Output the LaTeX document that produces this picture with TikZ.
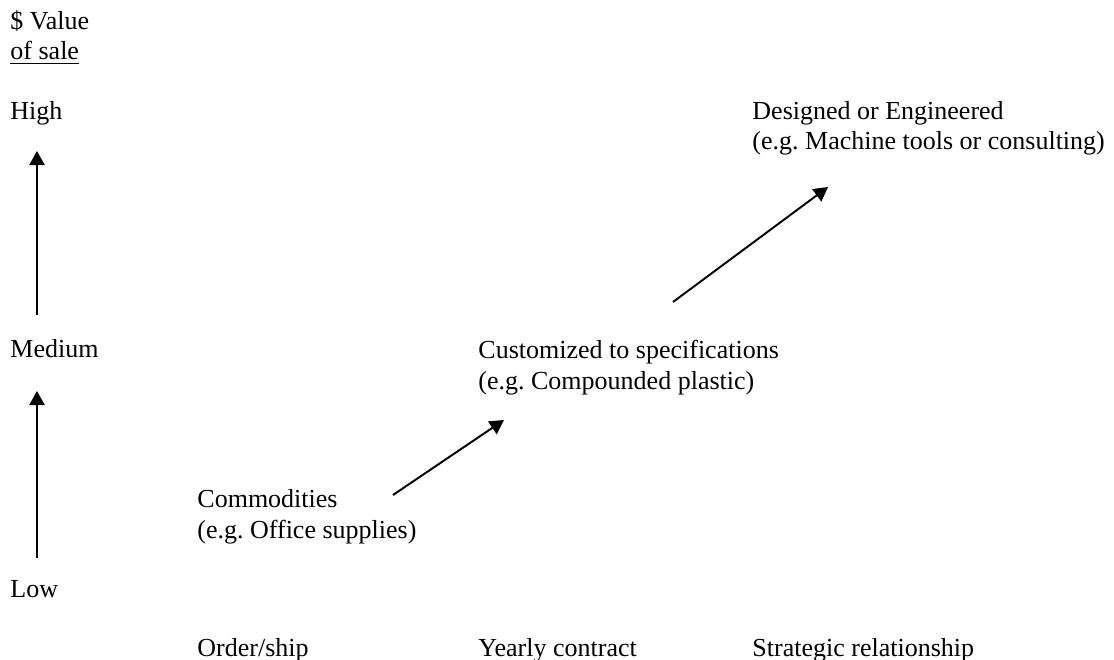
\documentclass[tikz,border=0pt]{standalone}
\usepackage{fontspec}
\setmainfont{Liberation Serif}
\usetikzlibrary{arrows.meta}
\frenchspacing
\tikzset{
	txt/.style={anchor=base west, inner sep=0pt, align=left},
	arrow/.style={draw, line width=0.9pt, -{Triangle[length=6.5pt, width=7pt]}}
}

\begin{document}
\begin{tikzpicture}[x=0.4615pt, y=-0.4615pt, font=\fontsize{12pt}{14pt}\selectfont]

\useasboundingbox (0,0) rectangle (1114,660);

% vertical axis (base = last line)
\node[txt] (value) at (10,60) {\$ Value\\\underline{of sale}};
\node[txt] (high) at (10,120) {High};
\node[txt] (medium) at (10,357) {Medium};
\node[txt] (low) at (10,597) {Low};

% kinds of purchase
\node[txt] (commod) at (197,538) {Commodities\\(e.g. Office supplies)};
\node[txt] (custom) at (478,389) {Customized to specifications\\(e.g. Compounded plastic)};
\node[txt] (design) at (752,150) {Designed or Engineered\\(e.g. Machine tools or consulting)};

% horizontal axis
\node[txt] (order) at (197,656) {Order/ship};
\node[txt] (yearly) at (478,656) {Yearly contract};
\node[txt] (strat) at (752,656) {Strategic relationship};

\coordinate (a1s) at (37,315);
\coordinate (a1e) at (37,151);
\coordinate (a2s) at (37,558);
\coordinate (a2e) at (37,391);
\coordinate (a3s) at (393,495);
\coordinate (a3e) at (504,420);
\coordinate (a4s) at (673,302);
\coordinate (a4e) at (828,187);

\draw [arrow] (a1s) -- (a1e);
\draw [arrow] (a2s) -- (a2e);
\draw [arrow] (a3s) -- (a3e);
\draw [arrow] (a4s) -- (a4e);

\end{tikzpicture}
\end{document}
